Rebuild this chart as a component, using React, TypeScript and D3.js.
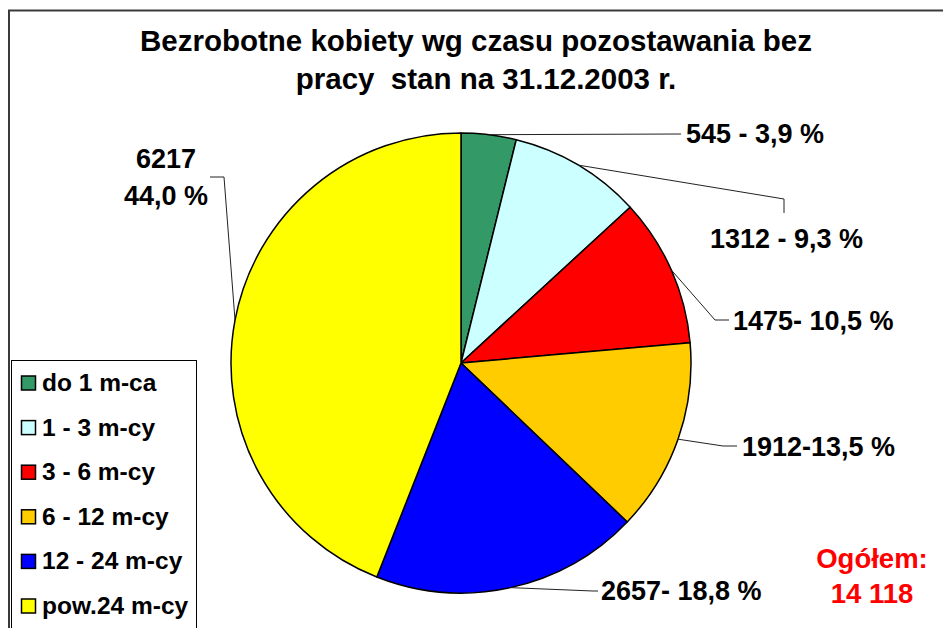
import React from "react";
import * as d3 from "d3";

const titleLines = ["Bezrobotne kobiety wg czasu pozostawania bez", "pracy  stan na 31.12.2003 r."];
const categories = ["do 1 m-ca", "1 - 3 m-cy", "3 - 6 m-cy", "6 - 12 m-cy", "12 - 24 m-cy", "pow.24 m-cy"];
const values = [545, 1312, 1475, 1912, 2657, 6217];
const sliceLabels = [["545 - 3,9 %"], ["1312 - 9,3 %"], ["1475- 10,5 %"], ["1912-13,5 %"], ["2657- 18,8 %"], ["6217", "44,0 %"]];
const totalLines = ["Ogółem:", "14 118"];
const colors = ["#339966", "#CCFFFF", "#FF0000", "#FFCC00", "#0000FF", "#FFFF00"];

// layout: label text anchor + leader line bend points
const labelLayout = [
  { x: 686, y: 143, anchor: "start", bends: [[681, 134]] },
  { x: 710, y: 248, anchor: "start", bends: [[784, 199], [784, 213]] },
  { x: 733, y: 330, anchor: "start", bends: [[715, 320], [729, 320]] },
  { x: 742, y: 456, anchor: "start", bends: [[723, 446], [737, 446]] },
  { x: 601, y: 600, anchor: "start", bends: [[593, 591], [598, 591]] },
  { x: 166, y: 168, anchor: "middle", bends: [[224, 177], [210, 177]] },
];

const W = 943;
const H = 628;
const cx = 461;
const cy = 363;
const R = 230;
const FONT = "'Liberation Sans', Arial, sans-serif";

export default function App() {
  const pie = d3.pie<number>().sort(null).value((d) => d).startAngle(0).endAngle(2 * Math.PI);
  const arcs = pie(values);
  const arc = d3.arc<d3.PieArcDatum<number>>().innerRadius(0).outerRadius(R);

  const legendY = d3.scaleLinear().domain([0, categories.length - 1]).range([383, 606]);

  return (
    <svg width={W} height={H} style={{ position: "absolute", left: 0, top: 0, background: "#fff" }} fontFamily={FONT}>
      <rect x={0} y={0} width={W} height={H} fill="#fff" />
      {/* outer frame */}
      <path d={`M9,${H + 5} L9,10.5 L${W + 5},10.5`} fill="none" stroke="#3a3a3a" strokeWidth={2} />
      {/* title */}
      {titleLines.map((t, i) => (
        <text key={i} x={476 + (i === 1 ? 10 : 0)} y={51 + i * 38} textAnchor="middle" fontSize={29.5} fontWeight="bold" style={{ whiteSpace: "pre" }}>
          {t}
        </text>
      ))}
      {/* pie */}
      <g transform={`translate(${cx},${cy})`}>
        {arcs.map((a, i) => (
          <path key={i} d={arc(a) || ""} fill={colors[i]} stroke="#000" strokeWidth={1.5} strokeLinejoin="round" />
        ))}
      </g>
      {/* leader lines */}
      {arcs.map((a, i) => {
        const mid = (a.startAngle + a.endAngle) / 2;
        const sx = cx + Math.sin(mid) * R;
        const sy = cy - Math.cos(mid) * R;
        const pts: [number, number][] = [[sx, sy], ...(labelLayout[i].bends as [number, number][])];
        const line = d3.line();
        return <path key={i} d={line(pts) || ""} fill="none" stroke="#222" strokeWidth={1} />;
      })}
      {/* slice labels */}
      {sliceLabels.map((lines, i) => (
        <text key={i} x={labelLayout[i].x} y={labelLayout[i].y} textAnchor={labelLayout[i].anchor as any} fontSize={27} fontWeight="bold" fill="#000">
          {lines.map((l, j) => (
            <tspan key={j} x={labelLayout[i].x} dy={j === 0 ? 0 : 37}>
              {l}
            </tspan>
          ))}
        </text>
      ))}
      {/* total */}
      {totalLines.map((t, i) => (
        <text key={i} x={872} y={568 + i * 35} textAnchor="middle" fontSize={27.5} fontWeight="bold" fill="#FF0000">
          {t}
        </text>
      ))}
      {/* legend */}
      <rect x={11.5} y={360.5} width={185} height={300} fill="#fff" stroke="#000" strokeWidth={1} />
      {categories.map((c, i) => {
        const y = legendY(i);
        return (
          <g key={i}>
            <rect x={21.5} y={y - 7} width={14} height={14} fill={colors[i]} stroke="#000" strokeWidth={1.5} />
            <text x={42} y={y + 8} fontSize={24.5} fontWeight="bold" fill="#000">
              {c}
            </text>
          </g>
        );
      })}
    </svg>
  );
}
